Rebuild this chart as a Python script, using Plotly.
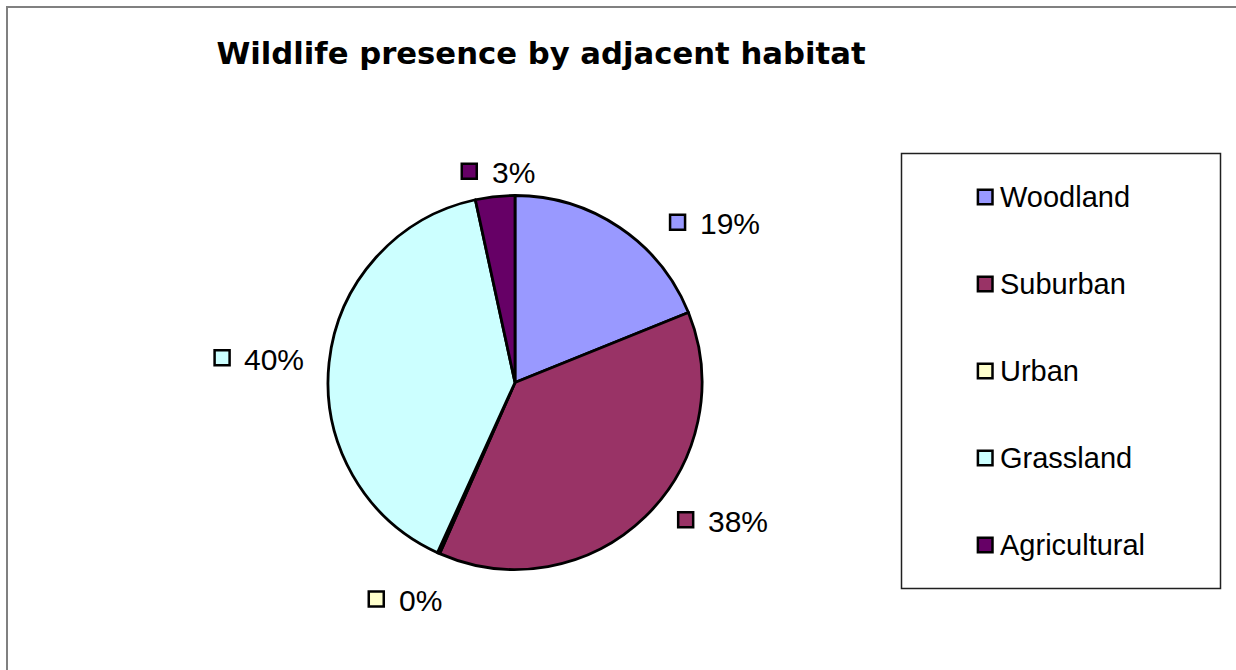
import math
import plotly.graph_objects as go

# Share of wildlife sightings by the habitat adjacent to each site (%)
habitats = ["Woodland", "Suburban", "Urban", "Grassland", "Agricultural"]
presence = [18.9, 37.7, 0.2, 39.8, 3.4]
slice_colors = ["#9999FF", "#993366", "#FFFFCC", "#CCFFFF", "#660066"]

W, H = 1236, 670

# pie geometry in pixels
CX, CY, R = 515, 382.5, 187

# hand nudges (px) applied to the computed outside-label positions
label_nudge = [(59, 21), (33, -17), (-12, 20), (-8, 0), (8, 6)]


def px(x):
    return x / W


def py(y):
    return 1 - y / H


fig = go.Figure(
    go.Pie(
        labels=habitats,
        values=presence,
        sort=False,
        direction="clockwise",
        rotation=0,
        marker=dict(colors=slice_colors, line=dict(color="black", width=2.8)),
        textinfo="none",
        hoverinfo="label+percent",
        showlegend=False,
        domain=dict(x=[px(CX - R), px(CX + R)], y=[py(CY + R), py(CY - R)]),
    )
)

shapes = []
annotations = []

# outer chart frame (left and top edges fall inside the page)
frame = dict(color="#808080", width=2)
shapes.append(dict(type="line", xref="paper", yref="paper",
                   x0=px(7), x1=px(7), y0=0, y1=py(6), line=frame, layer="below"))
shapes.append(dict(type="line", xref="paper", yref="paper",
                   x0=px(6), x1=1, y0=py(7), y1=py(7), line=frame, layer="below"))

# percentage labels with colour keys, placed outside each slice
total = sum(presence)
lab_font = 30
cum = 0.0
for name, v, col, (nx, ny) in zip(habitats, presence, slice_colors, label_nudge):
    mid = (cum + v / 2) / total * 2 * math.pi
    cum += v
    pct = f"{round(v / total * 100)}%"
    ux, uy = math.sin(mid), -math.cos(mid)
    text_w = lab_font * (0.556 * (len(pct) - 1) + 0.889)
    grp_w = 17 + 13 + text_w
    rr = 205
    gx = CX + rr * ux + (grp_w / 2) * ux + nx
    gy = CY + rr * uy + 12 * uy + ny
    left = gx - grp_w / 2
    shapes.append(dict(type="rect", xref="paper", yref="paper",
                       x0=px(left + 1.2), x1=px(left + 16.2),
                       y0=py(gy + 7.5 - 1.5), y1=py(gy - 7.5 - 1.5),
                       fillcolor=col, line=dict(color="black", width=2.5)))
    annotations.append(dict(xref="paper", yref="paper", x=px(left + 29), y=py(gy),
                            text=pct, showarrow=False, xanchor="left", yanchor="middle",
                            font=dict(family="Liberation Sans, Arial", size=lab_font, color="black")))

# legend box
shapes.append(dict(type="rect", xref="paper", yref="paper",
                   x0=px(901.5), x1=px(1220.5), y0=py(588.5), y1=py(153.5),
                   line=dict(color="#202020", width=1.5), fillcolor="white"))
for i, (name, col) in enumerate(zip(habitats, slice_colors)):
    yc = 197 + 87 * i
    shapes.append(dict(type="rect", xref="paper", yref="paper",
                       x0=px(977.9), x1=px(992.5), y0=py(yc + 7.3), y1=py(yc - 7.3),
                       fillcolor=col, line=dict(color="black", width=2.5)))
    annotations.append(dict(xref="paper", yref="paper", x=px(998), y=py(yc),
                            text=name, showarrow=False, xanchor="left", yanchor="middle",
                            font=dict(family="Liberation Sans, Arial", size=29, color="black")))

fig.update_layout(
    width=W, height=H, autosize=False,
    margin=dict(l=0, r=0, t=0, b=0),
    paper_bgcolor="white", plot_bgcolor="white",
    title=dict(text="<b>Wildlife presence by adjacent habitat</b>",
               x=px(541), y=py(53), xanchor="center", yanchor="middle",
               xref="paper", yref="paper",
               font=dict(family="DejaVu Sans", size=30.7, color="black")),
    shapes=shapes,
    annotations=annotations,
)

fig.write_html("out.html", config={"displayModeBar": False})
